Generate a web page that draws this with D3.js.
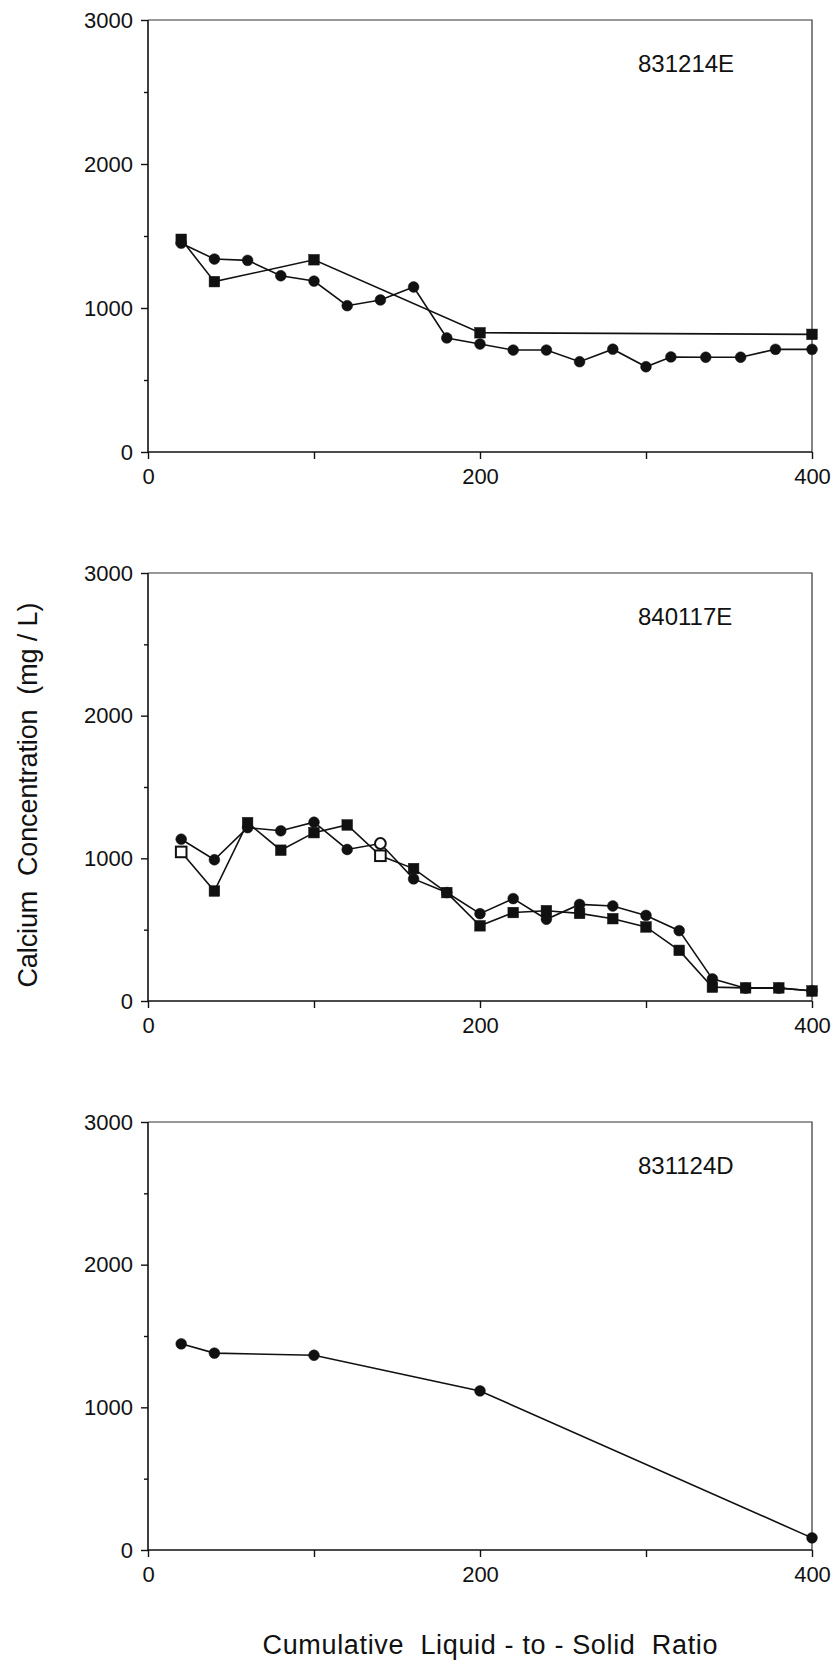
<!DOCTYPE html>
<html>
<head>
<meta charset="utf-8">
<script src="https://cdn.jsdelivr.net/npm/d3@7"></script>
<style>
  body { margin: 0; background: #fff; }
  text { font-family: "Liberation Sans", Arial, Helvetica, sans-serif; fill: #111; white-space: pre; }
</style>
</head>
<body>
<svg id="chart" width="839" height="1660"></svg>
<script>
// Axis ticks shared by all three panels
const xTicks = [0, 100, 200, 300, 400];
const xTickLabels = [0, 200, 400];
const yTicks = [0, 500, 1000, 1500, 2000, 2500, 3000];
const yTickLabels = [0, 1000, 2000, 3000];

// Sample 831214E
const s831214ECircleX = [20, 40, 60, 80, 100, 120, 140, 160, 180, 200, 220, 240, 260, 280, 300, 315, 336, 357, 378, 400];
const s831214ECircleY = [1450, 1340, 1331, 1224, 1187, 1016, 1056, 1146, 792, 750, 708, 708, 627, 714, 592, 660, 658, 658, 713, 713];
const s831214ESquareX = [20, 40, 100, 200, 400];
const s831214ESquareY = [1477, 1183, 1335, 828, 817];

// Sample 840117E
const s840117EX = [20, 40, 60, 80, 100, 120, 140, 160, 180, 200, 220, 240, 260, 280, 300, 320, 340, 360, 380, 400];
const s840117ECircleY = [1134, 990, 1215, 1193, 1253, 1062, 1104, 856, 760, 612, 718, 573, 677, 666, 600, 493, 155, 90, 90, 72];
const s840117ESquareY = [1045, 771, 1250, 1057, 1180, 1234, 1018, 928, 760, 527, 620, 633, 614, 577, 519, 355, 97, 92, 92, 70];

// Sample 831124D
const s831124DX = [20, 40, 100, 200, 400];
const s831124DY = [1445, 1380, 1365, 1115, 85];

const zip = (xs, ys) => xs.map((x, i) => ({ x, y: ys[i] }));

const panels = [
  { label: "831214E", top: 20, bottom: 452, series: [
      { shape: "square", data: zip(s831214ESquareX, s831214ESquareY) },
      { shape: "circle", data: zip(s831214ECircleX, s831214ECircleY) } ] },
  { label: "840117E", top: 573, bottom: 1001, series: [
      { shape: "square", data: zip(s840117EX, s840117ESquareY), hollowAt: [20, 140] },
      { shape: "circle", data: zip(s840117EX, s840117ECircleY), hollowAt: [140] } ] },
  { label: "831124D", top: 1122, bottom: 1550, series: [
      { shape: "circle", data: zip(s831124DX, s831124DY) } ] }
];

const left = 148, right = 812;
const svg = d3.select("#chart");
const x = d3.scaleLinear().domain([0, 400]).range([left, right]);

panels.forEach(p => {
  const y = d3.scaleLinear().domain([0, 3000]).range([p.bottom, p.top]);
  const g = svg.append("g");

  // Frame: light top/right edges, heavier axis edges
  g.append("path")
    .attr("d", `M${left},${p.top}H${right}V${p.bottom}`)
    .attr("fill", "none").attr("stroke", "#333").attr("stroke-width", 1.2);
  g.append("path")
    .attr("d", `M${left},${p.top}V${p.bottom}H${right}`)
    .attr("fill", "none").attr("stroke", "#111").attr("stroke-width", 1.6);

  // Y axis
  const ya = g.append("g").attr("transform", `translate(${left},0)`)
    .call(d3.axisLeft(y).tickValues(yTicks).tickSize(7).tickPadding(8)
      .tickFormat(d => yTickLabels.includes(d) ? d : ""));
  ya.select(".domain").remove();
  ya.selectAll(".tick line").attr("stroke", "#111").attr("stroke-width", 1.4)
    .attr("x2", d => yTickLabels.includes(d) ? -7 : -4);
  ya.selectAll(".tick text").attr("font-size", 22).attr("fill", "#111")
    .style("font-family", '"Liberation Sans", Arial, sans-serif');

  // X axis
  const xa = g.append("g").attr("transform", `translate(0,${p.bottom})`)
    .call(d3.axisBottom(x).tickValues(xTicks).tickSize(7).tickPadding(9)
      .tickFormat(d => xTickLabels.includes(d) ? d : ""));
  xa.select(".domain").remove();
  xa.selectAll(".tick line").attr("stroke", "#111").attr("stroke-width", 1.4);
  xa.selectAll(".tick text").attr("font-size", 22).attr("fill", "#111")
    .style("font-family", '"Liberation Sans", Arial, sans-serif');

  // Sample label
  g.append("text").attr("x", 638).attr("y", p.top + 52)
    .attr("font-size", 24).text(p.label);

  const line = d3.line().x(d => x(d.x)).y(d => y(d.y));

  p.series.forEach(s => {
    g.append("path").datum(s.data)
      .attr("d", line).attr("fill", "none")
      .attr("stroke", "#111").attr("stroke-width", 1.6);
  });

  p.series.forEach(s => {
    const hollow = s.hollowAt || [];
    const marks = g.selectAll(null).data(s.data);
    if (s.shape === "circle") {
      marks.enter().append("circle")
        .attr("cx", d => x(d.x)).attr("cy", d => y(d.y)).attr("r", 5.4)
        .attr("fill", d => hollow.includes(d.x) ? "#fff" : "#111")
        .attr("stroke", "#111").attr("stroke-width", d => hollow.includes(d.x) ? 2 : 0.5);
    } else {
      const h = 5.3;
      marks.enter().append("rect")
        .attr("x", d => x(d.x) - h).attr("y", d => y(d.y) - h)
        .attr("width", h * 2).attr("height", h * 2)
        .attr("fill", d => hollow.includes(d.x) ? "#fff" : "#111")
        .attr("stroke", "#111").attr("stroke-width", d => hollow.includes(d.x) ? 2 : 0.5);
    }
  });
});

// Shared axis titles
svg.append("text")
  .attr("transform", "translate(37,795) rotate(-90)")
  .attr("text-anchor", "middle").attr("font-size", 27)
  .attr("textLength", 385).attr("lengthAdjust", "spacing")
  .text("Calcium  Concentration  (mg / L)");

svg.append("text")
  .attr("x", 490).attr("y", 1654)
  .attr("text-anchor", "middle").attr("font-size", 27)
  .attr("textLength", 455).attr("lengthAdjust", "spacing")
  .text("Cumulative  Liquid - to - Solid  Ratio");
</script>
</body>
</html>
